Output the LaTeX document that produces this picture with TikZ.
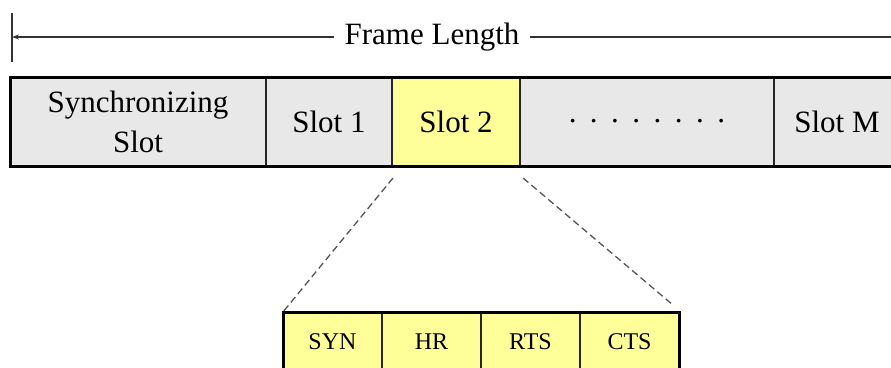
\documentclass[tikz,border=0pt]{standalone}
\usepackage{fontspec}
\setmainfont{Liberation Serif}
\usetikzlibrary{arrows.meta,calc}
\definecolor{cellgray}{HTML}{E8E8E8}
\definecolor{cellyellow}{HTML}{FFFF99}
\definecolor{dashgray}{HTML}{555555}
\tikzset{
  cell/.style={draw=black!85, line width=1.5pt, anchor=north west, inner sep=0pt,
    outer sep=0pt, minimum height=89pt, align=center, font=\fontsize{31}{40}\selectfont},
  subcell/.style={draw=black!85, line width=1.5pt, anchor=north west, inner sep=0pt,
    outer sep=0pt, minimum height=60pt, minimum width=99pt, fill=cellyellow,
    font=\fontsize{24}{28}\selectfont},
  outline/.style={line width=3pt},
  zoomline/.style={dashgray, line width=1.3pt, dash pattern=on 7pt off 4pt},
  dimline/.style={line width=1.2pt, black!80}
}
\newcommand{\dotrow}{.\hspace{13.5pt}.\hspace{13.5pt}.\hspace{13.5pt}.\hspace{13.5pt}.\hspace{13.5pt}.\hspace{13.5pt}.\hspace{13.5pt}.}
\begin{document}
\begin{tikzpicture}[x=1pt,y=1pt]
\useasboundingbox (0,-367) rectangle (891,0);
\clip (0,-367) rectangle (891,0);

% frame slots
\node[cell, fill=cellgray, minimum width=256pt] (sync) at (10,-77) {Synchronizing\\Slot};
\node[cell, fill=cellgray, minimum width=126pt] (s1) at (sync.north east) {Slot 1};
\node[cell, fill=cellyellow, minimum width=128pt] (s2) at (s1.north east) {Slot 2};
\node[cell, fill=cellgray, minimum width=254pt] (dots) at (s2.north east) {\dotrow};
\node[cell, fill=cellgray, minimum width=126pt] (sM) at (dots.north east) {Slot M};
\draw[outline] (sync.north west) rectangle (sM.south east);

% frame length dimension
\coordinate (fl) at (12,-37);
\coordinate (fr) at (905,-37);
\node[font=\fontsize{31}{36}\selectfont, inner sep=10pt] (flen) at (432,-37) {Frame Length};
\draw[dimline] (12,-13) -- (12,-62);
\draw[dimline, -{Stealth[length=7pt,width=5pt]}] (flen.west) -- (fl);
\draw[dimline, -{Stealth[length=7pt,width=5pt]}] (flen.east) -- (fr);

% slot 2 expanded
\node[subcell] (syn) at (283,-312) {SYN};
\node[subcell] (hr) at (syn.north east) {HR};
\node[subcell] (rts) at (hr.north east) {RTS};
\node[subcell] (cts) at (rts.north east) {CTS};
\draw[outline] (syn.south west) -- (syn.north west) -- (cts.north east) -- (cts.south east);

% zoom guides
\coordinate (zl) at ($(s2.south west)+(1,-12)$);
\coordinate (zr) at ($(s2.south east)+(3,-12)$);
\coordinate (zre) at ($(cts.north east)+(-6,7)$);
\draw[zoomline] (zl) -- (syn.north west);
\draw[zoomline] (zr) -- (zre);
\end{tikzpicture}
\end{document}
